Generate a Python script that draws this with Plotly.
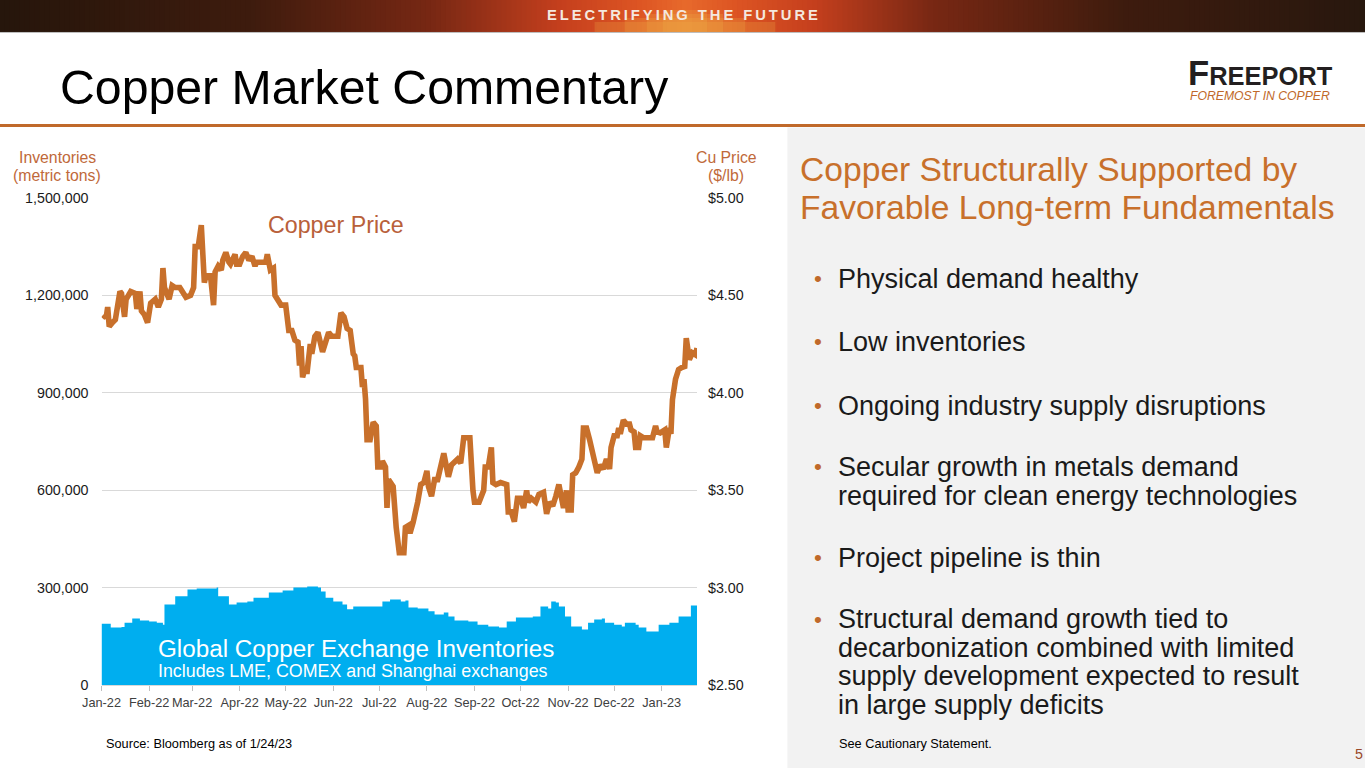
import pandas as pd
import plotly.graph_objects as go

# ---------------- data ----------------
start = pd.Timestamp("2022-01-01")

month_ticks = ["Jan-22", "Feb-22", "Mar-22", "Apr-22", "May-22", "Jun-22", "Jul-22",
               "Aug-22", "Sep-22", "Oct-22", "Nov-22", "Dec-22", "Jan-23"]

# Copper price ($/lb): days since 2022-01-01 and value
price_days = [1, 3, 4, 5, 7, 9, 12, 13, 15, 16, 19, 22, 23, 25, 26, 28, 30, 32, 35, 37, 39, 40, 41, 43, 44,
              46, 48, 51, 53, 55, 58, 60, 61, 63, 65, 67, 68, 71, 73, 74, 76, 78, 79, 81, 83, 84, 87, 88, 90,
              92, 94, 96, 98, 100, 101, 104, 107, 108, 110, 112, 113, 117, 120, 122, 124, 126, 128, 129, 130,
              131, 132, 134, 136, 137, 139, 141, 144, 146, 148, 150, 154, 156, 158, 160, 162, 164, 165, 166,
              169, 170, 171, 172, 173, 175, 177, 179, 180, 182, 183, 185, 186, 187, 190, 192, 194, 197, 198,
              200, 201, 203, 205, 206, 208, 210, 212, 213, 215, 217, 219, 221, 223, 224, 226, 228, 230, 232,
              234, 236, 238, 240, 242, 243, 246, 249, 250, 252, 254, 255, 257, 260, 264, 265, 267, 269, 271,
              273, 275, 277, 278, 280, 283, 285, 288, 290, 292, 294, 296, 298, 301, 303, 304, 306, 307, 309,
              311, 313, 314, 316, 318, 321, 323, 325, 327, 329, 331, 332, 334, 336, 337, 338, 340, 342, 344,
              345, 347, 348, 350, 351, 353, 356, 359, 361, 362, 364, 367, 368, 370, 371, 372, 374, 376, 378,
              380, 381, 383, 385, 387, 388]
price_values = [4.40, 4.385, 4.44, 4.34, 4.36, 4.375, 4.52, 4.51, 4.39, 4.48, 4.52, 4.51, 4.43, 4.52, 4.42,
                4.40, 4.36, 4.46, 4.48, 4.44, 4.48, 4.64, 4.54, 4.49, 4.48, 4.55, 4.54, 4.54, 4.52, 4.49,
                4.50, 4.54, 4.75, 4.75, 4.86, 4.565, 4.60, 4.60, 4.45, 4.62, 4.65, 4.63, 4.68, 4.72, 4.67,
                4.66, 4.71, 4.66, 4.66, 4.70, 4.72, 4.68, 4.70, 4.65, 4.67, 4.67, 4.67, 4.71, 4.63, 4.64,
                4.50, 4.45, 4.45, 4.32, 4.32, 4.27, 4.26, 4.14, 4.24, 4.08, 4.11, 4.11, 4.25, 4.20, 4.29,
                4.31, 4.21, 4.26, 4.31, 4.29, 4.29, 4.41, 4.39, 4.33, 4.32, 4.20, 4.19, 4.13, 4.13, 4.03,
                4.07, 3.97, 3.76, 3.76, 3.85, 3.83, 3.62, 3.62, 3.65, 3.62, 3.41, 3.555, 3.52, 3.31, 3.18,
                3.18, 3.31, 3.32, 3.28, 3.335, 3.40, 3.44, 3.53, 3.54, 3.60, 3.52, 3.47, 3.555, 3.555, 3.62,
                3.69, 3.65, 3.57, 3.63, 3.65, 3.66, 3.64, 3.77, 3.77, 3.77, 3.50, 3.44, 3.44, 3.50, 3.62,
                3.62, 3.72, 3.54, 3.53, 3.54, 3.53, 3.39, 3.39, 3.34, 3.46, 3.46, 3.41, 3.50, 3.44, 3.46,
                3.44, 3.48, 3.49, 3.38, 3.44, 3.42, 3.47, 3.53, 3.41, 3.50, 3.40, 3.40, 3.58, 3.59, 3.62,
                3.66, 3.82, 3.82, 3.76, 3.66, 3.59, 3.63, 3.61, 3.66, 3.61, 3.72, 3.78, 3.78, 3.82, 3.79,
                3.86, 3.84, 3.84, 3.81, 3.80, 3.72, 3.72, 3.78, 3.77, 3.77, 3.77, 3.83, 3.80, 3.795, 3.81,
                3.72, 3.82, 3.79, 3.965, 4.07, 4.12, 4.13, 4.135, 4.28, 4.17, 4.205, 4.195, 4.23]

# Global copper exchange inventories (metric tons)
inv_days = [0, 6, 13, 15, 20, 25, 31, 36, 40, 41, 48, 56, 62, 75, 76, 83, 88, 95, 99, 109, 118, 125, 134,
            141, 143, 146, 151, 157, 160, 164, 183, 188, 195, 198, 200, 206, 213, 217, 223, 226, 230, 239,
            245, 252, 259, 264, 270, 281, 286, 291, 293, 296, 298, 302, 306, 313, 317, 321, 326, 328, 334,
            339, 341, 348, 350, 355, 363, 370, 376, 384, 388]
inv_values = [190000, 178000, 180000, 193000, 206000, 200000, 197000, 193000, 187000, 249000, 274000,
              295000, 298000, 301000, 274000, 249000, 255000, 258000, 270000, 286000, 292000, 301000,
              304000, 301000, 289000, 270000, 258000, 249000, 234000, 243000, 258000, 264000, 258000,
              261000, 240000, 237000, 228000, 218000, 224000, 212000, 200000, 197000, 187000, 181000,
              178000, 197000, 209000, 212000, 243000, 237000, 258000, 255000, 243000, 212000, 181000,
              172000, 193000, 203000, 206000, 193000, 187000, 181000, 193000, 187000, 178000, 166000,
              187000, 193000, 212000, 246000, 243000]

left_ticks = [0, 300000, 600000, 900000, 1200000, 1500000]
right_ticks = [2.50, 3.00, 3.50, 4.00, 4.50, 5.00]

bullets = [
    ["Physical demand healthy"],
    ["Low inventories"],
    ["Ongoing industry supply disruptions"],
    ["Secular growth in metals demand", "required for clean energy technologies"],
    ["Project pipeline is thin"],
    ["Structural demand growth tied to", "decarbonization combined with limited",
     "supply development expected to result", "in large supply deficits"],
]

# ---------------- helpers ----------------
W, H = 1365, 768
# the photographed page appears shrunk and offset; lay out in target-picture pixels
SX, SY, OX, OY = 0.982, 0.980, 19.8, 8.0
FS = 1 / 0.981
def px(x):
    return ((x - OX) / SX) / W
def py(y):
    return 1 - ((y - OY) / SY) / H
def fs(s):
    return round(s * FS, 2)

price_dates = start + pd.to_timedelta(price_days, unit="D")
inv_dates = start + pd.to_timedelta(inv_days, unit="D")
tick_dates = pd.date_range("2022-01-01", periods=len(month_ticks), freq="MS")

ORANGE = "#C8702B"
TXT_OR = "#C0693A"
FONT = "Liberation Sans, Arial, sans-serif"

fig = go.Figure()
fig.add_trace(go.Scatter(
    x=inv_dates, y=inv_values, mode="lines", fill="tozeroy",
    line=dict(width=0, shape="hv", color="#00AEEF"), fillcolor="#00AEEF",
    hoverinfo="skip", yaxis="y"))
fig.add_trace(go.Scatter(
    x=price_dates, y=price_values, mode="lines",
    line=dict(width=5.6, color=ORANGE), yaxis="y2"))

shapes = []
# banner gradient
stops = [(0, (38, 22, 12)), (250, (62, 28, 14)), (430, (120, 40, 20)), (560, (198, 64, 30)),
         (640, (222, 86, 36)), (683, (232, 106, 44)), (730, (222, 86, 36)), (810, (198, 64, 30)),
         (930, (120, 40, 20)), (1120, (62, 28, 14)), (1365, (40, 24, 14))]
def col_at(x):
    for (x0, c0), (x1, c1) in zip(stops[:-1], stops[1:]):
        if x0 <= x <= x1:
            t = (x - x0) / (x1 - x0)
            return "rgb(%d,%d,%d)" % tuple(int(a + (b - a) * t) for a, b in zip(c0, c1))
    return "rgb(40,24,14)"
step = 5
for x in range(0, W, step):
    shapes.append(dict(type="rect", xref="paper", yref="paper", x0=px(x), x1=px(x + step + 1),
                       y0=py(32), y1=1.05, fillcolor=col_at(x + step / 2), line_width=0, layer="below"))
# soft yellow glow at bottom centre of banner
for half_w, top in [(90, 22), (60, 18), (38, 14), (22, 10)]:
    shapes.append(dict(type="rect", xref="paper", yref="paper", x0=px(683 - half_w), x1=px(683 + half_w),
                       y0=py(32), y1=py(top), fillcolor="rgba(240,175,70,0.24)", line_width=0,
                       layer="below"))
shapes.append(dict(type="line", xref="paper", yref="paper", x0=-0.05, x1=1.05, y0=py(32.5), y1=py(32.5),
                   line=dict(color="#BDBDBD", width=1)))
# orange rule
shapes.append(dict(type="line", xref="paper", yref="paper", x0=-0.05, x1=1.05, y0=py(125.5), y1=py(125.5),
                   line=dict(color="#C0692A", width=3)))
# right grey panel
shapes.append(dict(type="rect", xref="paper", yref="paper", x0=px(785), x1=1.05, y0=-0.05, y1=py(127.5),
                   fillcolor="#F2F2F2", line_width=0, layer="below"))

ann = []
def text(x, y, s, size, color="#000000", xanchor="left", family=FONT, **kw):
    ann.append(dict(x=px(x), y=py(y), xref="paper", yref="paper", text=s, showarrow=False,
                    xanchor=xanchor, yanchor="middle",
                    font=dict(size=fs(size), color=color, family=family), **kw))

sp = "\u2009"
banner = (sp + " " + sp).join(sp.join(word) for word in ["ELECTRIFYING", "THE", "FUTURE"])
text(681, 15, "<b>" + banner + "</b>", 14.5, "#F4E8DE", "center")
text(58.5, 87, "Copper Market Commentary", 47.3, "#000000")
text(1256, 73, "<b>F<span style='font-size:%spx'>REEPORT</span></b>" % fs(25), 34, "#231F20", "center")
text(1256, 96, "<i>FOREMOST IN COPPER</i>", 12, "#C0692A", "center")

text(58, 158, "Inventories", 15.5, TXT_OR, "center")
text(58, 176, "(metric tons)", 15.5, TXT_OR, "center")
text(724, 158, "Cu Price", 15.5, TXT_OR, "center")
text(724, 176, "($/lb)", 15.5, TXT_OR, "center")
text(335, 225, "Copper Price", 22.8, "#B9603A", "center")
text(156, 649, "Global Copper Exchange Inventories", 23.8, "#FFFFFF")
text(156, 672, "Includes LME, COMEX and Shanghai exchanges", 17.5, "#FFFFFF")

text(796, 170, "Copper Structurally Supported by", 33, "#C8702B")
text(796, 208, "Favorable Long-term Fundamentals", 33, "#C8702B")

bullet_y = [[279], [342], [406], [467, 496], [558], [620, 649, 677, 706]]
for lines, ys in zip(bullets, bullet_y):
    text(810, ys[0], "•", 22, "#C0692A")
    for ln, yy in zip(lines, ys):
        text(833, yy, ln, 26.5, "#1A1A1A")

text(104, 744, "Source: Bloomberg as of 1/24/23", 12.5, "#000000")
text(834, 744, "See Cautionary Statement.", 12.5, "#000000")
text(1354, 755, "5", 14, "#9A4A2A", "center")

fig.update_layout(
    width=W, height=H, autosize=False,
    margin=dict(l=0, r=0, t=0, b=0),
    paper_bgcolor="white", plot_bgcolor="rgba(0,0,0,0)",
    showlegend=False, font=dict(family=FONT, color="#262626"),
    shapes=shapes, annotations=ann,
    xaxis=dict(domain=[px(102), px(695)], type="date",
               range=["2022-01-01", "2023-01-24"],
               tickvals=tick_dates, ticktext=month_ticks,
               tickfont=dict(size=fs(12.5), color="#404040"),
               ticks="outside", ticklen=5, tickcolor="#BFBFBF",
               showline=True, linecolor="#D9D9D9", showgrid=False, zeroline=False),
    yaxis=dict(domain=[py(686), py(198)], range=[0, 1500000],
               tickvals=left_ticks, tickformat=",",
               tickfont=dict(size=fs(14), color="#1A1A1A"),
               showgrid=True, gridcolor="#D9D9D9", zeroline=False, ticklabelstandoff=12),
    yaxis2=dict(domain=[py(686), py(198)], range=[2.5, 5.0], overlaying="y", side="right",
                tickvals=right_ticks, tickformat="$.2f",
                tickfont=dict(size=fs(14), color="#1A1A1A"),
                showgrid=False, zeroline=False, ticklabelstandoff=10),
)

post = ("document.documentElement.style.margin='0';document.body.style.margin='0';"
        "document.body.style.overflow='hidden';")
fig.write_html("out.html", config={"displayModeBar": False}, post_script=post)
